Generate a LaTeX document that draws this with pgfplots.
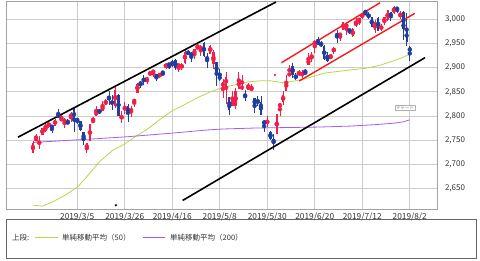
\documentclass[border=0pt]{standalone}
\usepackage{fontspec}
\setmainfont{Noto Sans CJK JP}
\usepackage{pgfplots}
\usepackage{pgfplotstable}
\pgfplotsset{compat=1.18}
\definecolor{candlered}{RGB}{240,32,72}
\definecolor{candleblue}{RGB}{32,62,160}
\definecolor{trendred}{RGB}{250,24,24}
\definecolor{smaA}{RGB}{184,214,72}
\definecolor{smaB}{RGB}{168,90,240}
\definecolor{gridgray}{RGB}{204,204,204}
\definecolor{labelgray}{RGB}{50,50,50}
\definecolor{boxgray}{RGB}{100,100,100}

% up (red) candles: index open high low close
\pgfplotstableread{
i o h l c
0 2722.61 2748.19 2722.61 2744.73
1 2750.30 2761.85 2748.63 2753.03
2 2743.50 2757.90 2731.55 2745.73
3 2760.24 2775.66 2760.24 2775.60
4 2769.28 2787.33 2767.29 2779.76
5 2779.05 2789.88 2774.06 2784.70
7 2780.24 2794.20 2779.11 2792.67
9 2792.36 2803.12 2789.47 2793.90
10 2787.50 2795.76 2775.13 2792.38
12 2798.22 2808.02 2787.38 2803.69
17 2730.79 2744.13 2722.27 2743.07
18 2747.61 2784.00 2747.61 2783.30
19 2787.34 2798.32 2786.73 2791.52
20 2799.78 2821.24 2799.78 2810.92
22 2810.79 2830.73 2810.79 2822.48
23 2822.61 2835.41 2821.99 2832.94
26 2819.72 2860.31 2817.38 2854.88
28 2796.01 2809.79 2785.02 2798.36
29 2812.66 2829.87 2803.99 2818.46
31 2809.40 2819.71 2798.77 2815.44
32 2828.27 2836.03 2819.23 2834.40
33 2848.63 2869.40 2848.63 2867.19
36 2873.99 2881.28 2867.14 2879.39
37 2884.16 2893.24 2882.99 2892.74
38 2888.46 2895.95 2880.78 2895.77
40 2881.37 2889.71 2879.13 2888.21
42 2900.86 2910.54 2898.37 2907.41
46 2904.81 2908.40 2891.90 2905.03
47 2898.78 2909.51 2896.35 2907.97
48 2909.99 2936.31 2908.53 2933.68
51 2925.81 2939.88 2917.56 2939.88
52 2940.58 2949.52 2939.35 2943.03
53 2937.14 2948.22 2924.11 2945.83
56 2929.21 2947.85 2929.21 2945.64
57 2908.89 2937.32 2898.21 2932.47
60 2859.84 2875.97 2836.40 2870.72
61 2863.10 2891.31 2825.39 2881.40
63 2820.12 2852.54 2820.12 2834.41
64 2820.38 2858.68 2815.08 2850.96
65 2855.80 2892.15 2855.80 2876.32
66 2858.60 2885.48 2854.23 2859.53
68 2854.02 2868.88 2854.02 2864.36
69 2856.06 2865.47 2851.11 2856.27
74 2786.94 2799.00 2776.74 2788.86
77 2762.64 2804.49 2762.64 2803.27
78 2818.09 2827.28 2800.92 2826.15
79 2828.51 2852.10 2822.45 2843.49
80 2852.87 2884.97 2852.87 2873.34
81 2885.83 2904.77 2885.51 2886.73
84 2886.24 2895.24 2881.99 2891.64
85 2886.82 2894.45 2879.62 2886.98
87 2906.71 2930.79 2905.44 2917.75
88 2920.55 2931.74 2911.43 2926.46
89 2949.60 2958.06 2931.50 2954.18
94 2919.66 2929.30 2918.57 2924.92
95 2932.94 2943.98 2929.05 2941.76
97 2964.66 2973.21 2955.92 2973.01
98 2978.08 2995.84 2977.96 2995.82
99 2984.25 2994.03 2967.97 2990.41
101 2965.52 2981.90 2963.44 2979.63
102 2989.30 3002.98 2984.62 2993.07
103 2999.62 3002.33 2988.80 2999.91
104 3003.36 3013.92 3001.87 3013.77
108 2978.87 2998.28 2973.09 2995.11
110 2981.93 2990.71 2976.65 2985.03
111 2994.74 3005.90 2988.56 3005.47
112 2998.77 3019.59 2996.82 3019.56
114 3013.25 3027.98 3012.59 3025.86
116 3007.66 3017.19 3000.94 3013.18
}\upcandles

% down (blue) candles
\pgfplotstableread{
i o h l c
6 2780.67 2781.58 2764.55 2774.88
8 2804.35 2813.49 2794.99 2796.11
11 2788.11 2793.73 2782.51 2784.49
13 2814.37 2816.88 2767.66 2792.81
14 2794.41 2796.44 2782.97 2789.65
15 2790.27 2790.27 2768.69 2771.45
16 2766.53 2767.25 2739.09 2748.93
21 2811.02 2815.00 2803.46 2808.48
24 2840.76 2852.42 2823.27 2832.57
25 2831.34 2843.54 2812.43 2824.23
27 2844.52 2846.16 2800.47 2800.71
30 2819.72 2825.56 2787.72 2805.37
34 2868.24 2872.90 2858.75 2867.24
35 2876.09 2885.25 2865.17 2873.40
39 2886.58 2886.88 2873.33 2878.20
41 2891.92 2893.42 2881.99 2888.32
43 2908.32 2909.60 2896.48 2905.58
44 2912.26 2916.06 2900.71 2907.06
45 2916.04 2918.00 2895.45 2900.45
49 2934.00 2936.83 2926.05 2927.25
50 2928.99 2933.10 2912.84 2926.17
54 2952.33 2954.13 2923.36 2923.73
55 2922.16 2931.68 2900.50 2917.52
58 2913.03 2913.03 2862.60 2884.05
59 2879.61 2897.96 2873.28 2879.42
62 2840.19 2840.19 2801.43 2811.87
67 2841.94 2853.86 2831.29 2840.23
70 2836.70 2836.70 2805.49 2822.24
71 2832.41 2841.36 2820.19 2826.06
72 2830.03 2840.51 2801.58 2802.39
73 2790.25 2792.03 2766.06 2783.02
75 2766.15 2768.98 2750.52 2752.06
76 2751.53 2763.07 2728.81 2744.45
82 2903.27 2910.61 2878.53 2885.72
83 2882.73 2888.57 2874.68 2879.84
86 2889.75 2897.27 2887.30 2889.67
90 2952.71 2964.15 2946.87 2950.46
91 2951.42 2954.92 2944.05 2945.35
92 2945.78 2946.52 2916.01 2917.38
93 2926.07 2932.59 2912.99 2913.78
96 2971.41 2977.93 2952.22 2964.33
100 2979.77 2980.76 2970.09 2975.95
105 3017.80 3017.80 3008.77 3014.30
106 3012.13 3015.02 3001.15 3004.04
107 3005.10 3005.26 2984.25 2984.42
109 3004.26 3006.02 2975.86 2976.61
113 3016.26 3016.31 2997.24 3003.67
115 3024.47 3025.61 3014.30 3020.97
117 3016.22 3017.40 2958.08 2980.38
118 2980.32 3013.59 2945.23 2953.56
119 2943.90 2945.50 2914.11 2932.05
}\downcandles

\pgfplotstableread{
i v
0 2615
3 2613
6 2621
10 2635
14 2652
17 2674
21 2705
25 2728
29 2742
33 2760
36 2772
40 2792
44 2811
48 2824
52 2838
56 2850
59 2857
62 2862
65 2866
68 2871
72 2873
75 2873
79 2869
83 2873
87 2879
92 2889
97 2893
101 2896
105 2899
110 2906
115 2917
119 2928
}\smafifty

\pgfplotstableread{
i v
0 2745
10 2749
18 2752
30 2757
45 2765
55 2771
60 2773
70 2775
80 2776
90 2777
100 2779
108 2782
114 2785
117 2788
119 2792
}\smatwohundred

\begin{document}
\begin{tikzpicture}
\useasboundingbox (0,0) rectangle (480bp,261bp);
\begin{axis}[
  at={(6bp,52bp)}, anchor=south west,
  width=431bp, height=208bp, scale only axis,
  xmin=-8.5, xmax=127.6, ymin=2607, ymax=3038.6,
  axis line style={draw=gridgray!80!black, line width=0.8bp},
  xtick={14,29,44,59,74,89,104,119},
  xticklabels={2019/3/5,2019/3/26,2019/4/16,2019/5/8,2019/5/30,2019/6/20,2019/7/12,2019/8/2},
  ytick={2650,2700,2750,2800,2850,2900,2950,3000},
  yticklabels={{2,650},{2,700},{2,750},{2,800},{2,850},{2,900},{2,950},{3,000}},
  yticklabel pos=right,
  yticklabel style={anchor=west, xshift=4.5bp},
  xticklabel style={font=\fontsize{8.3bp}{9bp}\selectfont},
  grid=major,
  major grid style={draw=gridgray, line width=0.8bp},
  major tick length=0pt,
  tick label style={font=\fontsize{8bp}{9bp}\selectfont, text=labelgray},
  clip=true,
]
% moving averages
\addplot[smaA, line width=0.8bp, forget plot] table[x=i, y=v] {\smafifty};
\addplot[smaB, line width=0.8bp, forget plot] table[x=i, y=v] {\smatwohundred};
% wicks
\addplot[color=candlered, only marks, mark=none, forget plot,
  error bars/.cd, y dir=both, y explicit, error mark=none,
  error bar style={line width=0.7bp, candlered}]
  table[x=i, y expr={(\thisrow{h}+\thisrow{l})/2}, y error expr={(\thisrow{h}-\thisrow{l})/2}] {\upcandles};
\addplot[color=candleblue, only marks, mark=none, forget plot,
  error bars/.cd, y dir=both, y explicit, error mark=none,
  error bar style={line width=0.7bp, candleblue}]
  table[x=i, y expr={(\thisrow{h}+\thisrow{l})/2}, y error expr={(\thisrow{h}-\thisrow{l})/2}] {\downcandles};
% bodies
\addplot[color=candlered, only marks, mark=none, forget plot,
  error bars/.cd, y dir=both, y explicit, error mark=none,
  error bar style={line width=2.2bp, line cap=butt, candlered}]
  table[x=i, y expr={(\thisrow{o}+\thisrow{c})/2}, y error expr={max(abs(\thisrow{c}-\thisrow{o})/2,0.7)}] {\upcandles};
\addplot[color=candleblue, only marks, mark=none, forget plot,
  error bars/.cd, y dir=both, y explicit, error mark=none,
  error bar style={line width=2.2bp, line cap=butt, candleblue}]
  table[x=i, y expr={(\thisrow{o}+\thisrow{c})/2}, y error expr={max(abs(\thisrow{c}-\thisrow{o})/2,0.7)}] {\downcandles};
% trend lines
\addplot[black, line width=1.6bp, forget plot] coordinates {(-4.72,2756) (76.74,3036.5)};
\addplot[black, line width=1.6bp, forget plot] coordinates {(47.28,2624.7) (123.8,2921)};
\addplot[black, line width=1.6bp, forget plot] coordinates {(25.95,2614) (26.45,2616)};
\addplot[trendred, line width=1.4bp, forget plot] coordinates {(78.5,2910.6) (109.6,3035)};
\addplot[trendred, line width=1.4bp, forget plot] coordinates {(84.1,2872.6) (120.6,3013)};
\addplot[trendred, line width=1.6bp, forget plot] coordinates {(76.15,2884) (76.65,2886)};
\node[draw=gray!60, fill=white, inner sep=0.8bp, text=gray, font=\fontsize{4.5bp}{5bp}\selectfont] at (axis cs:117.5,2817.6) {チャート};
\end{axis}
% legend box
\draw[boxgray, line width=0.8bp] (6bp,3bp) rectangle (476bp,42bp);
\begin{scope}[every node/.style={anchor=west, inner sep=0pt, text=labelgray, font=\fontsize{7.5bp}{9bp}\selectfont}]
\node at (12bp,23.7bp) {上段:};
\draw[smaA, line width=0.8bp] (35bp,23.7bp) -- (58bp,23.7bp);
\node at (62bp,23.7bp) {単純移動平均（50）};
\draw[smaB, line width=0.8bp] (143bp,23.7bp) -- (165bp,23.7bp);
\node at (170bp,23.7bp) {単純移動平均（200）};
\end{scope}
\end{tikzpicture}
\end{document}
